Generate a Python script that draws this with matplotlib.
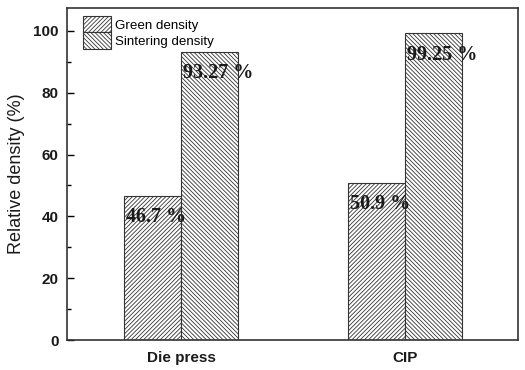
import matplotlib
matplotlib.use("Agg")
import matplotlib.pyplot as plt
import numpy as np

categories = ["Die press", "CIP"]
green_density = [46.7, 50.9]
sintering_density = [93.27, 99.25]
green_labels = ["46.7 %", "50.9 %"]
sintering_labels = ["93.27 %", "99.25 %"]
series_names = ["Green density", "Sintering density"]

plt.rcParams['hatch.linewidth'] = 0.6
fig = plt.figure(figsize=(5.25, 3.7), dpi=100)
ax = fig.add_axes([67/525, 1-340/370, (518-67)/525, (340-8)/370])

x = np.arange(len(categories))
w = 0.255
b1 = ax.bar(x - w/2, green_density, w, facecolor='white', edgecolor='#333333',
            hatch='////////', linewidth=0.8, label=series_names[0])
b2 = ax.bar(x + w/2, sintering_density, w, facecolor='white', edgecolor='#333333',
            hatch='\\\\\\\\\\\\\\\\', linewidth=0.8, label=series_names[1])

for xi, v, lab in zip(x - w, green_density, green_labels):
    ax.text(xi + 0.008, v - 7.0, lab, family='Liberation Serif', fontweight='bold',
            fontsize=14.5, color='#1a1a1a', ha='left', va='center')
for xi, v, lab in zip(x, sintering_density, sintering_labels):
    ax.text(xi + 0.008, v - 7.0, lab, family='Liberation Serif', fontweight='bold',
            fontsize=14.5, color='#1a1a1a', ha='left', va='center')

ax.set_xlim(-0.509, 1.504)
ax.set_ylim(0, 107.4)
ax.set_yticks([0, 20, 40, 60, 80, 100])
ax.set_yticks([10, 30, 50, 70, 90], minor=True)
ax.set_xticks(x)
ax.set_xticklabels(categories)
ax.tick_params(axis='y', which='major', direction='in', length=5, width=1, labelsize=11, pad=6)
ax.tick_params(axis='y', which='minor', direction='in', length=3, width=1)
ax.tick_params(axis='x', which='both', length=0, labelsize=11, pad=8)
for lab in ax.get_yticklabels() + ax.get_xticklabels():
    lab.set_family('Liberation Sans')
    lab.set_fontweight('bold')
    lab.set_color('#1a1a1a')
for s in ax.spines.values():
    s.set_linewidth(1.2)
    s.set_color('#333333')

ax.set_ylabel("Relative density (%)", family='Liberation Sans', fontsize=13, color='#1a1a1a', labelpad=6)

leg = ax.legend(loc='upper left', bbox_to_anchor=(0.018, 1.0), frameon=False,
                prop={'family': 'Liberation Sans', 'size': 9.6},
                handlelength=2.1, handleheight=1.5, handletextpad=0.3,
                labelspacing=0.0, borderaxespad=0.2)

fig.savefig("out.png", dpi=100)
